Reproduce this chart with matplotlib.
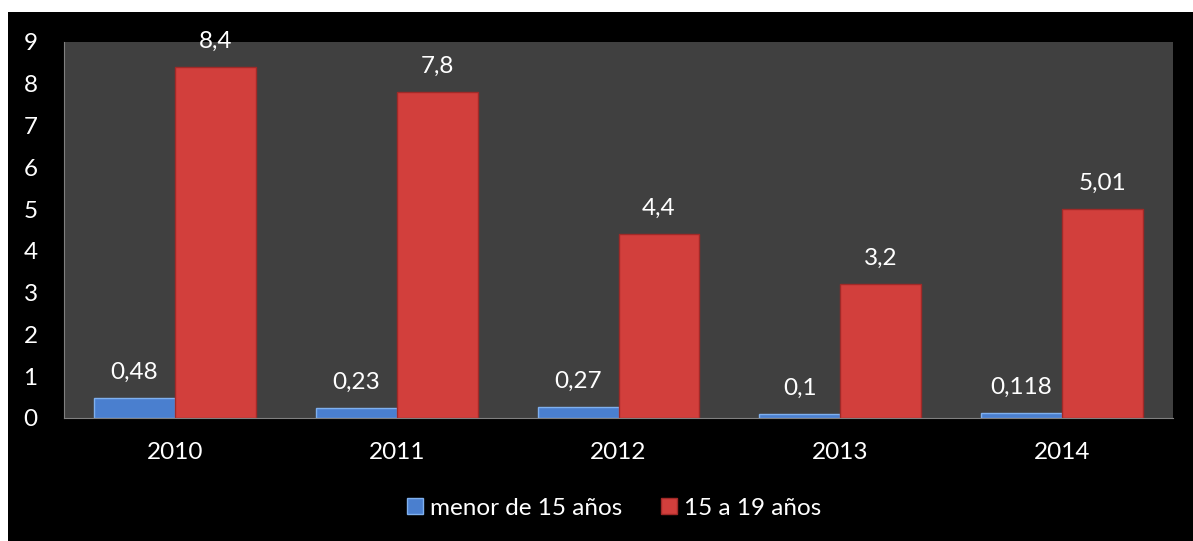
import matplotlib.pyplot as plt
import matplotlib.patches as mpatches
import numpy as np

years = ["2010", "2011", "2012", "2013", "2014"]
menor15 = [0.48, 0.23, 0.27, 0.1, 0.118]
de15a19 = [8.4, 7.8, 4.4, 3.2, 5.01]
menor15_txt = ["0,48", "0,23", "0,27", "0,1", "0,118"]
de15a19_txt = ["8,4", "7,8", "4,4", "3,2", "5,01"]

plt.rcParams['font.family'] = ['Lato', 'DejaVu Sans']
fs = 17.5

fig = plt.figure(figsize=(11.93, 5.41), dpi=100)
fig.patch.set_facecolor("white")
# black chart area with thin white margin on top/left
fig.patches.append(mpatches.Rectangle((8 / 1193, 0), 1 - 8 / 1193, 1 - 12 / 541,
                                      transform=fig.transFigure, facecolor="black",
                                      edgecolor="none", zorder=-5))

ax = fig.add_axes([64 / 1193, 1 - 418 / 541, (1173 - 64) / 1193, (418 - 42) / 541])
ax.set_zorder(1)
ax.set_facecolor("#404040")

x = np.arange(len(years))
w = 0.365
blue = "#4a7fcf"
red = "#d23f3c"
b1 = ax.bar(x - w / 2, menor15, w, color=blue, edgecolor="#7fb0ee", linewidth=1,
            label="menor de 15 años", zorder=2)
b2 = ax.bar(x + w / 2, de15a19, w, color=red, edgecolor="#a02a28", linewidth=1,
            label="15 a 19 años", zorder=2)

for i in range(len(years)):
    ax.annotate(menor15_txt[i], (x[i] - w / 2, menor15[i]), xytext=(0, 11),
                textcoords="offset points", ha="center", va="bottom",
                color="white", fontsize=fs)
    ax.annotate(de15a19_txt[i], (x[i] + w / 2, de15a19[i]), xytext=(0, 11),
                textcoords="offset points", ha="center", va="bottom",
                color="white", fontsize=fs, annotation_clip=False)

ax.set_xlim(-0.5, 4.5)
ax.set_ylim(0, 9)
ax.set_yticks(range(10))
ax.set_xticks(x)
ax.set_xticklabels(years)
ax.tick_params(colors="white", labelsize=fs, length=0)
ax.tick_params(axis="y", pad=19)
ax.tick_params(axis="x", pad=17)
for s in ["top", "right"]:
    ax.spines[s].set_visible(False)
ax.spines["left"].set_color("#808080")
ax.spines["bottom"].set_color("#808080")

leg = ax.legend(loc="center", bbox_to_anchor=(0.496, -0.24), ncol=2, frameon=False,
                fontsize=fs, labelcolor="white", handlelength=0.65, handleheight=0.65,
                handletextpad=0.3, columnspacing=1.6)

plt.savefig("out.png", dpi=100, facecolor=fig.get_facecolor())
